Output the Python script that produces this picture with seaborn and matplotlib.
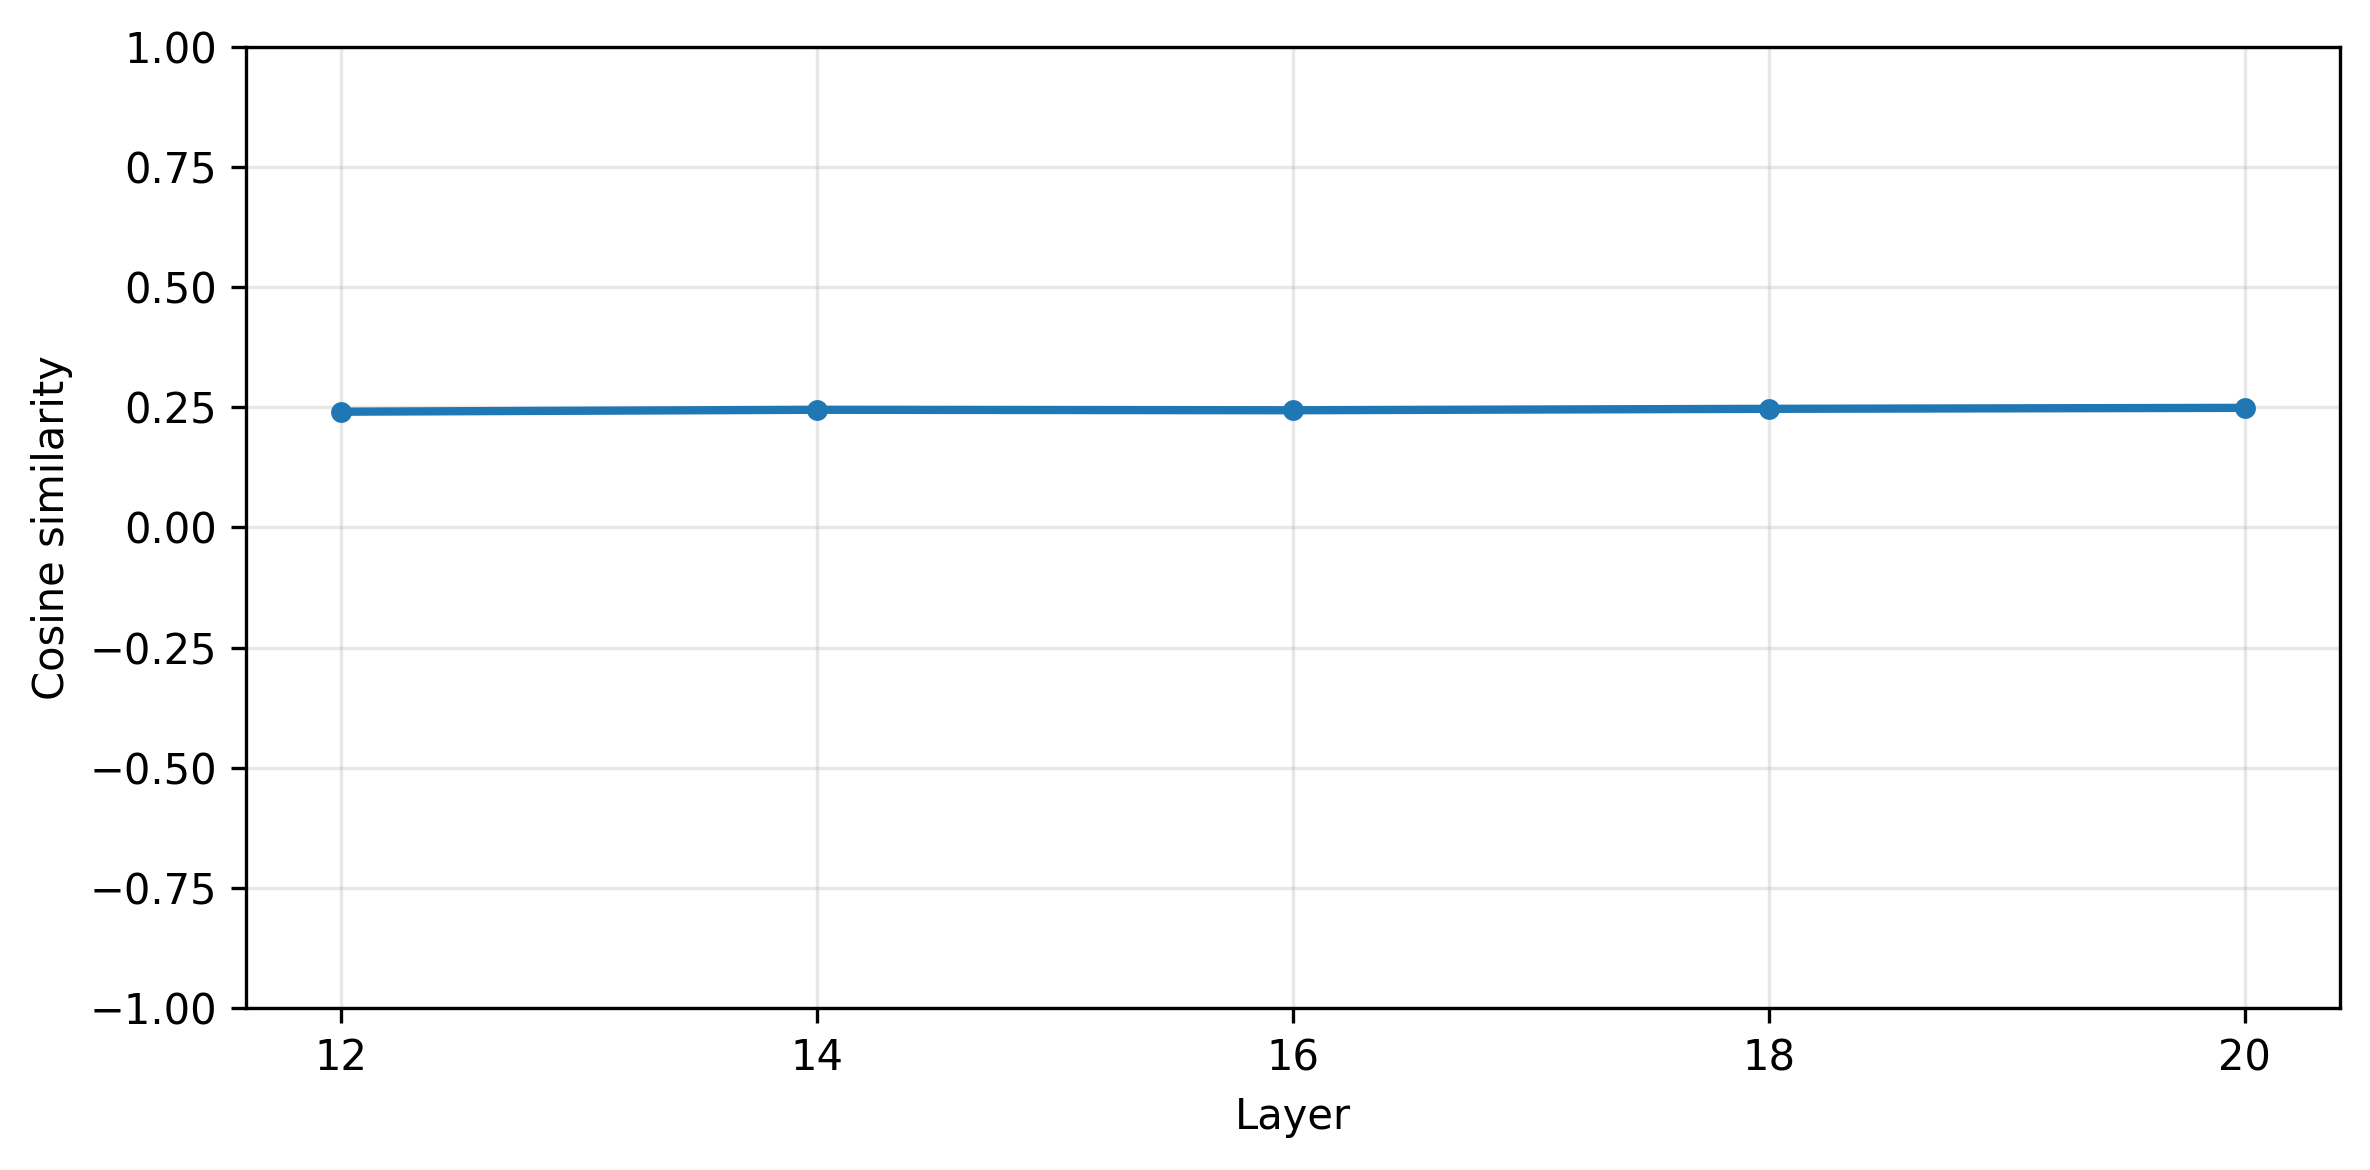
import pandas as pd
import matplotlib
matplotlib.use("Agg")
import matplotlib.pyplot as plt
import seaborn as sns

# Cosine similarity per layer
layers = [12, 14, 16, 18, 20]
cos_sim = [0.241, 0.245, 0.244, 0.247, 0.249]

df = pd.DataFrame({"Layer": layers, "Cosine similarity": cos_sim})

fig, ax = plt.subplots(figsize=(7.9, 3.9), dpi=300)
fig.subplots_adjust(left=0.1038, right=0.9873, top=0.9598, bottom=0.1385)

sns.lineplot(data=df, x="Layer", y="Cosine similarity", marker="o",
             color="#1f77b4", linewidth=2, markersize=5,
             markeredgewidth=0, ax=ax)

ax.set_ylim(-1, 1)
ax.set_xticks(layers)
ax.set_xlabel("Layer")
ax.set_ylabel("Cosine similarity")
ax.grid(True, alpha=0.3)

plt.savefig("out.png", dpi=300)
